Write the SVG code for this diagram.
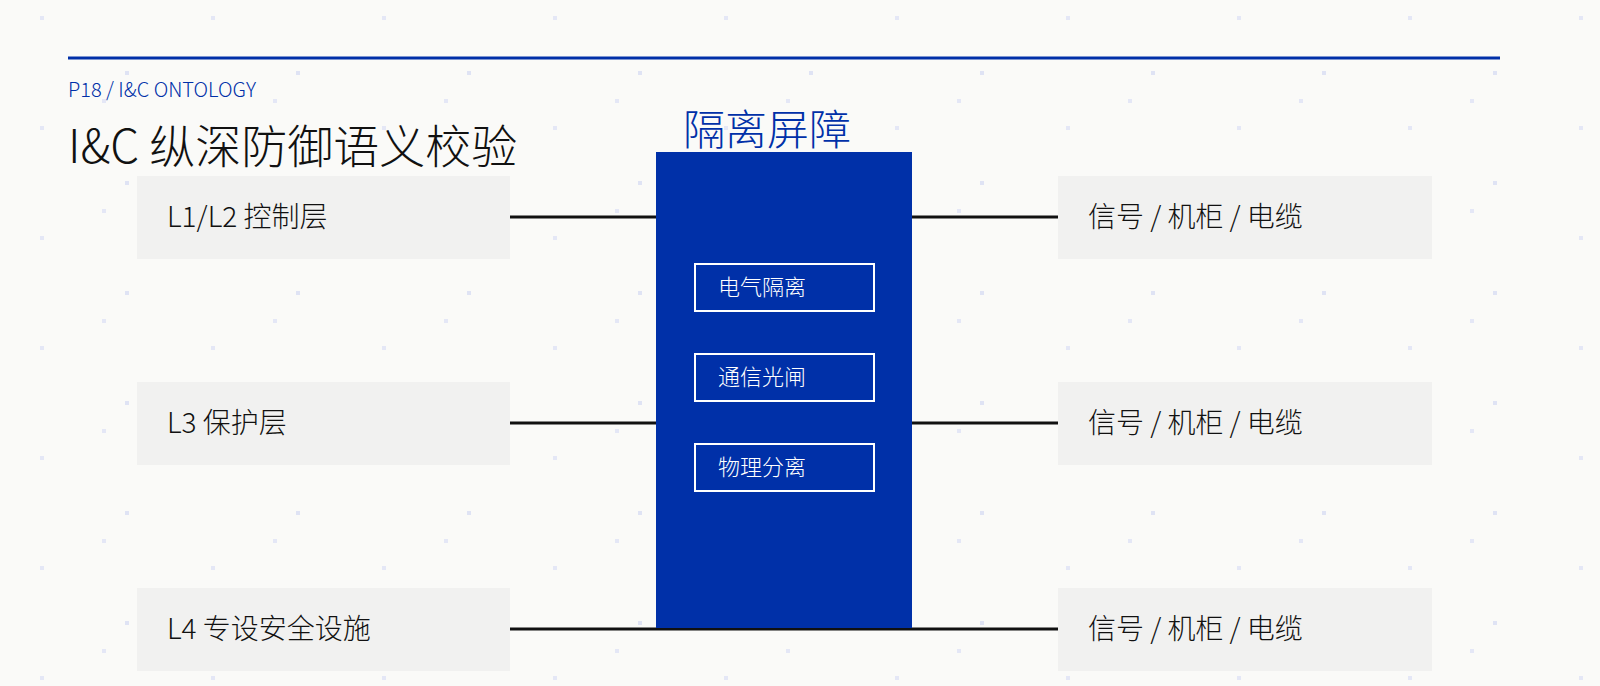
<svg xmlns="http://www.w3.org/2000/svg" width="1600" height="686" viewBox="0 0 1600 686">
<defs>
<pattern id="dots" x="0" y="0" width="171" height="110" patternUnits="userSpaceOnUse">
<rect x="125" y="71" width="4" height="4" fill="#dfe3f4"/>
<rect x="40" y="16" width="4" height="4" fill="#e4e7f6"/>
<rect x="102" y="99" width="4" height="4" fill="#e4e7f6"/>
</pattern>
</defs>
<style>
text{font-family:"Noto Sans CJK SC","Liberation Sans",sans-serif;font-weight:300}
.box{fill:#f1f1f0}
.lbl{font-size:28px;fill:#111}
.in{fill:none;stroke:#fff;stroke-width:2}
.inl{font-size:22px;fill:#fff}
.ln{stroke:#111;stroke-width:3}
</style>
<rect width="1600" height="686" fill="#fafaf8"/>
<rect width="1600" height="686" fill="url(#dots)"/>
<line x1="68" y1="58" x2="1500" y2="58" stroke="#0030a8" stroke-width="3"/>
<text x="68" y="97" font-size="20" fill="#0030a8">P18 / I&amp;C ONTOLOGY</text>
<text x="68" y="163" font-size="46" fill="#111">I&amp;C 纵深防御语义校验</text>
<g id="connectors">
<line class="ln" x1="510" y1="217" x2="656" y2="217"/>
<line class="ln" x1="912" y1="217" x2="1058" y2="217"/>
<line class="ln" x1="510" y1="423" x2="656" y2="423"/>
<line class="ln" x1="912" y1="423" x2="1058" y2="423"/>
<line class="ln" x1="510" y1="629" x2="1058" y2="629"/>
</g>
<g id="barrier">
<text x="767" y="145" font-size="42" fill="#0030a8" text-anchor="middle">隔离屏障</text>
<rect x="656" y="152" width="256" height="476" fill="#0030a8"/>
</g>
<g id="b1"><rect class="in" x="695" y="264" width="179" height="47"/><text class="inl" x="718" y="295">电气隔离</text></g>
<g id="b2"><rect class="in" x="695" y="354" width="179" height="47"/><text class="inl" x="718" y="385">通信光闸</text></g>
<g id="b3"><rect class="in" x="695" y="444" width="179" height="47"/><text class="inl" x="718" y="475">物理分离</text></g>
<g id="l1"><rect class="box" x="137" y="176" width="373" height="83"/><text class="lbl" x="167" y="227">L1/L2 控制层</text></g>
<g id="l3"><rect class="box" x="137" y="382" width="373" height="83"/><text class="lbl" x="167" y="433">L3 保护层</text></g>
<g id="l4"><rect class="box" x="137" y="588" width="373" height="83"/><text class="lbl" x="167" y="639">L4 专设安全设施</text></g>
<g id="r1"><rect class="box" x="1058" y="176" width="374" height="83"/><text class="lbl" x="1088" y="227">信号 / 机柜 / 电缆</text></g>
<g id="r2"><rect class="box" x="1058" y="382" width="374" height="83"/><text class="lbl" x="1088" y="433">信号 / 机柜 / 电缆</text></g>
<g id="r3"><rect class="box" x="1058" y="588" width="374" height="83"/><text class="lbl" x="1088" y="639">信号 / 机柜 / 电缆</text></g>
</svg>
